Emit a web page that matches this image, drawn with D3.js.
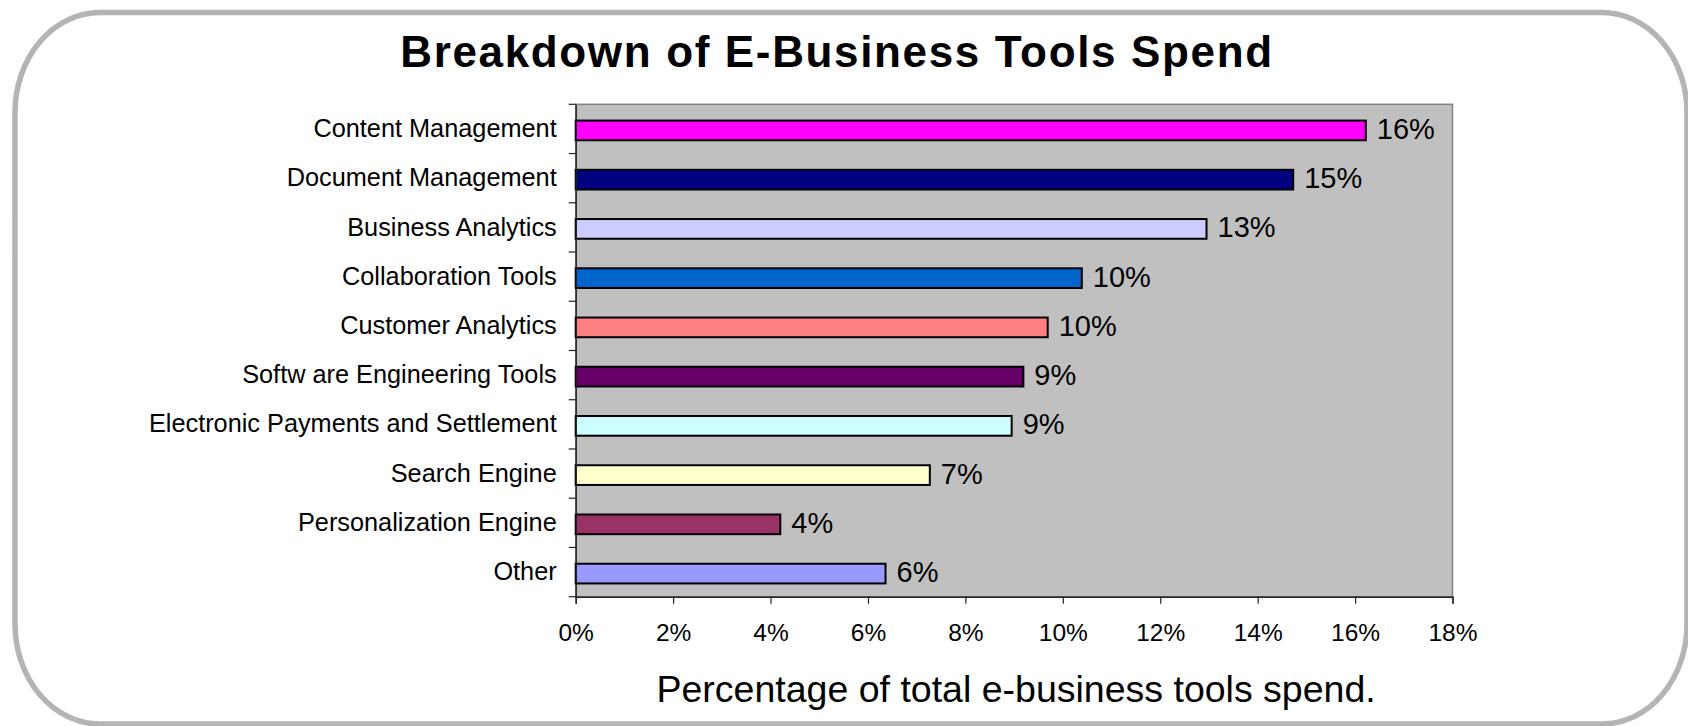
<!DOCTYPE html>
<html>
<head>
<meta charset="utf-8">
<script src="https://cdn.jsdelivr.net/npm/d3@7/dist/d3.min.js"></script>
<style>
  html, body { margin: 0; padding: 0; background: #fff; }
  svg { display: block; font-family: "Liberation Sans", Arial, sans-serif; }
</style>
</head>
<body>
<svg id="chart" width="1688" height="726"></svg>
<script>
// Spend categories, top to bottom
const categories = [
  "Content Management",
  "Document Management",
  "Business Analytics",
  "Collaboration Tools",
  "Customer Analytics",
  "Softw are Engineering Tools",
  "Electronic Payments and Settlement",
  "Search Engine",
  "Personalization Engine",
  "Other"
];

// Share of total e-business tools spend (percent)
const shares = [16.22, 14.73, 12.95, 10.39, 9.69, 9.19, 8.95, 7.27, 4.20, 6.36];

// Bar fill for each category
const barColors = [
  "#FF00FF", "#000080", "#CCCCFF", "#0066CC", "#FF8080",
  "#660066", "#CCFFFF", "#FFFFCC", "#993366", "#9999FF"
];

// Horizontal axis ticks (fractions)
const xTicks = [0, 0.02, 0.04, 0.06, 0.08, 0.10, 0.12, 0.14, 0.16, 0.18];

const titleText = "Breakdown of E-Business Tools Spend";
const xAxisTitle = "Percentage of total e-business tools spend.";

const svg = d3.select("#chart");

const plot = { left: 575.7, right: 1452.5, top: 104.3, bottom: 596.7 };

// Rounded outer frame
svg.append("rect")
  .attr("x", 15).attr("y", 12.5)
  .attr("width", 1687 - 15).attr("height", 724 - 12.5)
  .attr("rx", 85).attr("ry", 100)
  .attr("fill", "#fff")
  .attr("stroke", "#B4B4B4")
  .attr("stroke-width", 5.5);

// Title
svg.append("text")
  .attr("x", 837).attr("y", 67)
  .attr("text-anchor", "middle")
  .attr("font-size", 44)
  .attr("font-weight", "bold")
  .attr("letter-spacing", 1.65)
  .attr("fill", "#000")
  .text(titleText);

const x = d3.scaleLinear()
  .domain([0, 0.18])
  .range([plot.left, plot.right]);

const y = d3.scaleBand()
  .domain(categories)
  .range([plot.top, plot.bottom])
  .paddingInner(0.6)
  .paddingOuter(0.3);

// Plot background
svg.append("rect")
  .attr("x", plot.left).attr("y", plot.top)
  .attr("width", plot.right - plot.left)
  .attr("height", plot.bottom - plot.top)
  .attr("fill", "#C0C0C0")
  .attr("stroke", "#808080")
  .attr("stroke-width", 1.5);

const data = categories.map((c, i) => ({ cat: c, v: shares[i] / 100, color: barColors[i] }));

// Bars
const bars = svg.append("g").attr("transform", "translate(0,1.5)");
bars.selectAll("rect")
  .data(data)
  .join("rect")
  .attr("x", x(0))
  .attr("y", d => y(d.cat))
  .attr("width", d => x(d.v) - x(0))
  .attr("height", y.bandwidth())
  .attr("fill", d => d.color)
  .attr("stroke", "#000")
  .attr("stroke-width", 2);

// Value labels
const fmt = d3.format(".0%");
bars.selectAll("text")
  .data(data)
  .join("text")
  .attr("x", d => x(d.v) + 11)
  .attr("y", d => y(d.cat) + y.bandwidth() / 2 + 8.5)
  .attr("font-size", 29)
  .attr("fill", "#000")
  .text(d => fmt(d.v));

// Bottom axis
const xAxis = svg.append("g")
  .attr("transform", `translate(0,${plot.bottom})`)
  .call(d3.axisBottom(x)
    .tickValues(xTicks)
    .tickFormat(d3.format(".0%"))
    .tickSize(7)
    .tickPadding(19.5));
xAxis.select(".domain").attr("stroke", "#222").attr("stroke-width", 1.4);
xAxis.selectAll(".tick line").attr("stroke", "#222").attr("stroke-width", 1.2);
xAxis.selectAll(".tick text")
  .attr("font-size", 24.5)
  .attr("font-family", "Liberation Sans, Arial, sans-serif")
  .attr("fill", "#000");

// Left axis: category labels
const yAxis = svg.append("g")
  .attr("transform", `translate(${plot.left},0)`)
  .call(d3.axisLeft(y).tickSize(0).tickPadding(19));
yAxis.select(".domain").attr("stroke", "#222").attr("stroke-width", 1.4);
yAxis.selectAll(".tick text")
  .attr("font-size", 25.3)
  .attr("font-family", "Liberation Sans, Arial, sans-serif")
  .attr("fill", "#000");

// Category separators on the left axis
const boundaries = d3.range(categories.length + 1).map(i => plot.top + i * y.step());
svg.append("g")
  .selectAll("line")
  .data(boundaries)
  .join("line")
  .attr("x1", plot.left - 7).attr("x2", plot.left)
  .attr("y1", d => d).attr("y2", d => d)
  .attr("stroke", "#222")
  .attr("stroke-width", 1.2);

// Axis title
svg.append("text")
  .attr("x", (plot.left + plot.right) / 2 + 2)
  .attr("y", 702)
  .attr("text-anchor", "middle")
  .attr("font-size", 37.5)
  .attr("fill", "#000")
  .text(xAxisTitle);
</script>
</body>
</html>
